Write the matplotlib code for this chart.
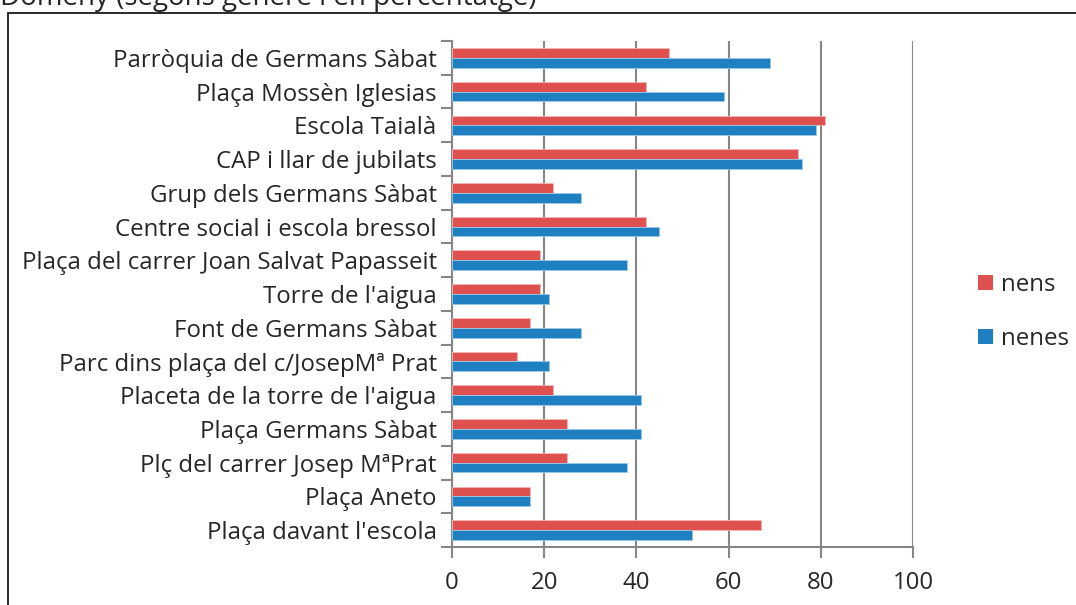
import matplotlib
matplotlib.use("Agg")
import matplotlib.pyplot as plt
from matplotlib.patches import Rectangle, Patch
import numpy as np

plt.rcParams['font.family'] = ['Open Sans', 'DejaVu Sans']

categories = [
    "Parròquia de Germans Sàbat",
    "Plaça Mossèn Iglesias",
    "Escola Taialà",
    "CAP i llar de jubilats",
    "Grup dels Germans Sàbat",
    "Centre social i escola bressol",
    "Plaça del carrer Joan Salvat Papasseit",
    "Torre de l'aigua",
    "Font de Germans Sàbat",
    "Parc dins plaça del c/JosepMª Prat",
    "Placeta de la torre de l'aigua",
    "Plaça Germans Sàbat",
    "Plç del carrer Josep MªPrat",
    "Plaça Aneto",
    "Plaça davant l'escola",
]
nens = [47, 42, 81, 75, 22, 42, 19, 19, 17, 14, 22, 25, 25, 17, 67]
nenes = [69, 59, 79, 76, 28, 45, 38, 21, 28, 21, 41, 41, 38, 17, 52]
x_ticks = [0, 20, 40, 60, 80, 100]
title = "Domeny (segons gènere i en percentatge)"

RED = "#DF514F"
BLUE = "#1F80C1"
GRID = "#868686"
TEXT = "#262626"
FS = 17.3

W, H = 1076, 605
fig = plt.figure(figsize=(W / 100, H / 100), dpi=100)

# outer chart frame
fig.patches.append(Rectangle((8 / W, -0.1), 1.2, 1.1 - 13 / H, transform=fig.transFigure,
                             fill=False, edgecolor="#1a1a1a", linewidth=1.3, zorder=0))
fig.text(0, 1 - 5 / H, title, ha="left", va="baseline", fontsize=20, color=TEXT)

ax = fig.add_axes([452 / W, 1 - 547 / H, (913 - 452) / W, (547 - 41) / H])

n = len(categories)
y = np.arange(n)
bh = 0.29
ax.barh(y - bh / 2, nens, height=bh, color=RED, edgecolor="#F2B8B7", linewidth=0.6, label="nens", zorder=3)
ax.barh(y + bh / 2, nenes, height=bh, color=BLUE, edgecolor="#9CC8E8", linewidth=0.6, label="nenes", zorder=3)

ax.set_ylim(n - 0.5, -0.5)
ax.set_xlim(0, 100)
ax.set_xticks(x_ticks)
ax.set_xticklabels([str(v) for v in x_ticks], fontsize=FS, color=TEXT)
ax.tick_params(axis="x", direction="out", length=8, width=1.5, color=GRID, pad=9)

ax.set_yticks(y)
ax.set_yticklabels(categories, fontsize=FS, color=TEXT)
ax.tick_params(axis="y", length=0, pad=11)
ax.set_yticks(np.arange(-0.5, n, 1), minor=True)
ax.tick_params(axis="y", which="minor", direction="out", length=8, width=1.5, color=GRID)

ax.grid(axis="x", color=GRID, linewidth=1.5, zorder=0)
ax.set_axisbelow(True)
for s in ["top", "right"]:
    ax.spines[s].set_visible(False)
for s in ["left", "bottom"]:
    ax.spines[s].set_color(GRID)
    ax.spines[s].set_linewidth(1.5)

handles = [Patch(facecolor=RED, label="nens"), Patch(facecolor=BLUE, label="nenes")]
fig.legend(handles=handles, loc="center left", bbox_to_anchor=(956 / W, 1 - 312 / H),
           frameon=False, fontsize=FS, handlelength=0.62, handleheight=0.62,
           handletextpad=0.35, labelspacing=1.25, labelcolor=TEXT)

fig.savefig("out.png", dpi=100)
